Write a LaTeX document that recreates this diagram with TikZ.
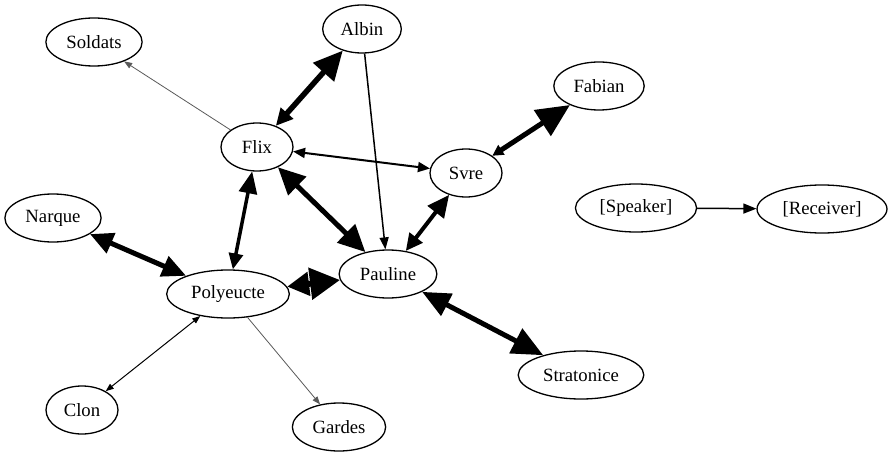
\documentclass[tikz,border=0pt]{standalone}
\usepackage{fontspec}
\setmainfont{Liberation Serif}
\usetikzlibrary{shapes.geometric,arrows.meta}

\newcommand{\namefont}{\fontsize{18.7}{22}\selectfont}

\tikzset{
  person/.style={ellipse, draw, line width=1.3pt, minimum width=72pt,
    minimum height=48pt, inner xsep=6.5pt, font=\namefont},
  faint/.style={draw=black!65, line width=0.8pt},
}

\begin{document}
\begin{tikzpicture}[x=1pt,y=-1pt]
            \useasboundingbox (0,0) rectangle (890,457);

            %Nodes
            \node[person] at (94,42)   (Soldats)    {Soldats};
            \node[person] at (362,29)  (Albin)      {Albin};
            \node[person] at (599,86)  (Fabian)     {Fabian};
            \node[person] at (257,147) (Flix)       {Flix};
            \node[person] at (466,173) (Svre)       {Svre};
            \node[person] at (53,218)  (Narque)     {Narque};
            \node[person] at (636,208) (Speaker)    {[Speaker]};
            \node[person] at (822,209) (Receiver)   {[Receiver]};
            \node[person] at (228,294) (Polyeucte)  {Polyeucte};
            \node[person] at (388,274) (Pauline)    {Pauline};
            \node[person] at (82,410)  (Clon)       {Clon};
            \node[person] at (339,427) (Gardes)     {Gardes};
            \node[person] at (581,375) (Stratonice) {Stratonice};

            %Lines
            \draw[faint, -{Triangle[length=8pt,width=6pt]}] (Flix) -- (Soldats);
            \draw[faint, -{Triangle[length=8pt,width=6pt]}] (Polyeucte) -- (Gardes);
            \draw[line width=1pt, {Triangle[length=8pt,width=6pt]}-{Triangle[length=8pt,width=6pt]}] (Polyeucte) -- (Clon);
            \draw[line width=1.5pt, -{Triangle[length=12pt,width=9pt]}] (Albin) -- (Pauline);
            \draw[line width=1.5pt, -{Triangle[length=13pt,width=10pt]}] (Speaker) -- (Receiver);
            \draw[line width=2pt, {Triangle[length=12pt,width=10pt]}-{Triangle[length=12pt,width=10pt]}] (Flix) -- (Svre);
            \draw[line width=5.5pt, {Triangle[length=17pt,width=16pt]}-{Triangle[length=29pt,width=27pt]}] (Flix) -- (Albin);
            \draw[line width=5pt, {Triangle[length=11pt,width=11pt]}-{Triangle[length=33pt,width=30pt]}] (Svre) -- (Fabian);
            \draw[line width=5pt, {Triangle[length=27pt,width=25pt]}-{Triangle[length=27pt,width=25pt]}] (Flix) -- (Pauline);
            \draw[line width=3.5pt, {Triangle[length=22pt,width=18pt]}-{Triangle[length=16pt,width=14pt]}] (Flix) -- (Polyeucte);
            \draw[line width=4pt, {Triangle[length=22pt,width=20pt]}-{Triangle[length=17pt,width=16pt]}] (Svre) -- (Pauline);
            \draw[line width=5pt, {Triangle[length=23pt,width=21pt]}-{Triangle[length=24pt,width=21pt]}] (Narque) -- (Polyeucte);
            \draw[line width=6pt, {Triangle[length=22pt,width=23pt]}-{Triangle[length=30pt,width=31pt]}] (Polyeucte) -- (Pauline);
            \draw[line width=5pt, {Triangle[length=28pt,width=24pt]}-{Triangle[length=31pt,width=27pt]}] (Pauline) -- (Stratonice);
\end{tikzpicture}
\end{document}
